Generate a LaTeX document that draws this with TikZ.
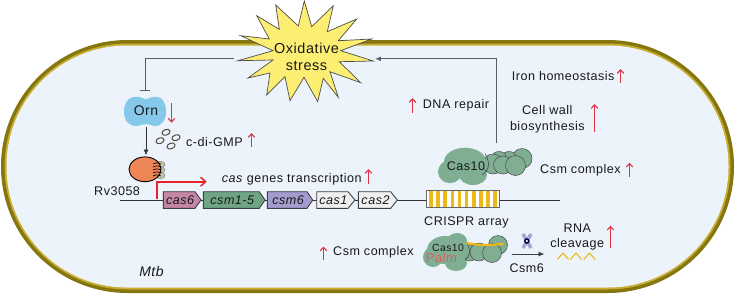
\documentclass[tikz,border=0pt]{standalone}
\usepackage{fontspec}
\setmainfont[LetterSpace=4]{Liberation Sans}
\usetikzlibrary{arrows.meta}
\definecolor{wallDark}{HTML}{86760F}
\definecolor{wallGold}{HTML}{C8AE30}
\definecolor{cytoFill}{HTML}{ECF3FB}
\definecolor{burst}{HTML}{FBEE73}
\definecolor{ornBlue}{HTML}{86C8EA}
\definecolor{rvOrange}{HTML}{EE8658}
\definecolor{upRed}{HTML}{DB3347}
\definecolor{promRed}{HTML}{E6222C}
\definecolor{csmGreen}{HTML}{7FAE93}
\definecolor{stripe}{HTML}{EDB818}
\definecolor{linkGray}{HTML}{5A5F66}
\definecolor{geneRose}{HTML}{C585A5}
\definecolor{geneGreen}{HTML}{6FA585}
\definecolor{geneViolet}{HTML}{A69BCF}
\definecolor{genePale}{HTML}{EFEFEF}
\definecolor{csmXcolor}{HTML}{ABA3D2}
\definecolor{ringBeige}{HTML}{C9C6A8}
\definecolor{palmRed}{HTML}{D9605F}
\tikzset{
  lbl/.style={font=\fontsize{12.6}{15}\selectfont, text=black!90, inner sep=0pt},
  sig/.style={draw=upRed, line width=1.2pt, -{Straight Barb[length=3.5pt,width=6.5pt,line width=1.1pt]}},
  flow/.style={draw=black!80, line width=0.9pt, -{Latex[length=6pt,width=5pt]}},
  pathway/.style={draw=linkGray, line width=1pt},
  genebox/.style={draw=black!75, line width=0.9pt},
  blob/.style={fill=csmGreen, draw=none},
  subunit/.style={fill=csmGreen, draw=black!70, line width=0.5pt},
  cdgring/.style={draw=black!70, fill=white!90!gray, line width=1pt},
  rvring/.style={draw=black!50, fill=ringBeige, line width=0.5pt},
}
% gene arrow: name, left edge, shoulder, tip, fill colour, label
\newcommand{\genearrow}[6]{
  \path[genebox, fill=#5] (#2,191.7) -- (#3,191.7) -- (#4,200) -- (#3,208.3) -- (#2,208.3) -- cycle;
  \node[lbl, font=\fontsize{12.6}{15}\selectfont\itshape] (#1) at ({(#2+#3)/2+1},200) {#6};
}
% short regulation arrow: name, x, y of tail, y of head
\newcommand{\regarrow}[4]{
  \coordinate (#1t) at (#2,#3);
  \coordinate (#1h) at (#2,#4);
  \draw[sig] (#1t) -- (#1h);
}
\begin{document}
\begin{tikzpicture}[x=1bp,y=-1bp]
\useasboundingbox (0,0) rectangle (735,294);
% cell wall and cytoplasm
\fill[wallDark, rounded corners=126.5bp] (1,40) rectangle (734,293);
\fill[wallGold, rounded corners=123bp] (4.5,43.5) rectangle (730.5,289.5);
\fill[cytoFill, rounded corners=120.5bp] (6.5,45.5) rectangle (728.5,287.5);

% oxidative stress burst
\path[draw=black!70, line width=0.7pt, fill=burst]
  (240.7,35.7) -- (269.3,39) -- (256.7,15.7) -- (279.3,29.3) -- (275.7,5) -- (298.3,26)
  -- (304.3,1) -- (311.7,26.7) -- (333.3,5.7) -- (327.3,31.7) -- (356.7,19) -- (338.3,40.7)
  -- (371.7,39) -- (340.7,50.7) -- (373.3,61) -- (339.3,61.7) -- (360.7,82.7) -- (330,71.7)
  -- (338.3,97.3) -- (323.3,78.3) -- (317.7,101.7) -- (304,77.3) -- (290,100.7) -- (285,76.7)
  -- (266.7,95) -- (270,73) -- (248,78) -- (273,60) -- (238,60.7) -- (273,50.7) -- cycle;
\node[lbl, font=\fontsize{14.5}{17}\selectfont, align=center] (oxid) at (306.5,57) {Oxidative\\[-0.5pt]stress};

% Orn
\path[fill=ornBlue] (146,99.5)
  .. controls (137,94.5) and (124,95) .. (124,112)
  .. controls (124,121) and (130,127) .. (137,126)
  .. controls (141,125.5) and (143,124) .. (146,124)
  .. controls (149,124) and (151,125.5) .. (155,126)
  .. controls (161,127) and (166,120) .. (166,112)
  .. controls (166,95) and (155,94.5) .. (146,99.5) -- cycle;
\node[lbl, font=\fontsize{14}{16}\selectfont] (orn) at (146,110.5) {Orn};

% feedback into Orn and the arrow down to Rv3058
\coordinate (inhStart) at (234,58);
\coordinate (inhCorner) at (145,58);
\coordinate (inhEnd) at (145,91);
\draw[pathway, -{Bar[width=10pt,line width=1pt]}] (inhStart) -- (inhCorner) -- (inhEnd);
\coordinate (ornOut) at (146,127);
\coordinate (rvIn) at (146,155.5);
\draw[flow] (ornOut) -- (rvIn);

% c-di-GMP rings
\foreach \cx/\cy in {166/132.3,176/137.7,160/140.7,171/146}
  \draw[cdgring, rotate around={20:(\cx,\cy)}] (\cx,\cy) ellipse [x radius=4.2bp, y radius=2.8bp];
\node[lbl, anchor=west] (cdg) at (186,142) {c-di-GMP};

% Rv3058
\foreach \cy in {164.5,170,175.5}
  \draw[rvring] (160.5,\cy) ellipse [x radius=4.5bp, y radius=3.2bp];
\draw[draw=black, line width=0.9pt, fill=rvOrange] (145,169.3) ellipse [x radius=16bp, y radius=12.4bp];
\foreach \cy in {164,167,170,173,176}
  \draw[black, line width=0.7pt] (153,\cy) .. controls (157,{\cy-1.5}) .. (161,\cy);
\node[lbl, anchor=west] (rv) at (94,190.7) {Rv3058};

% DNA strand
\coordinate (dnaL) at (120,200);
\coordinate (dnaR) at (560,200);
\draw[black!80, line width=0.9pt] (dnaL) -- (dnaR);

% cas locus
\genearrow{cas6}{163.3}{195}{201}{geneRose}{cas6}
\genearrow{csm15}{203.3}{259.3}{265}{geneGreen}{csm1-5}
\genearrow{csm6g}{267.3}{307}{312.7}{geneViolet}{csm6}
\genearrow{cas1}{316.7}{348}{355}{genePale}{cas1}
\genearrow{cas2}{358.3}{390.7}{397.3}{genePale}{cas2}

% promoter arrow
\coordinate (promA) at (157,199);
\coordinate (promB) at (157,181.7);
\coordinate (promC) at (206.7,181.7);
\draw[promRed, line width=1.6pt, -{Straight Barb[length=5pt,width=9pt,line width=1.5pt]}] (promA) -- (promB) -- (promC);
\node[lbl, anchor=west] (trans) at (221.7,179.5) {\textit{cas} genes transcription};

% CRISPR array
\fill[white] (426.7,190.7) rectangle (499.3,207.7);
\foreach \i in {0,...,9}
  \fill[stripe] ({429.2+7.1*\i},191) rectangle ({432.9+7.1*\i},207.4);
\draw[black!60, line width=0.7pt] (426.7,190.7) rectangle (499.3,207.7);
\node[lbl, anchor=west] (crispr) at (424,222.3) {CRISPR array};

% surveillance complex in the upper part of the cell
\fill[blob] (465,161.7) ellipse [x radius=21bp, y radius=14bp];
\fill[blob] (450,171.7) ellipse [x radius=12bp, y radius=11.5bp];
\fill[blob] (473,175) ellipse [x radius=14bp, y radius=10bp];
\draw[subunit] (522,158.5) circle [radius=10bp];
\draw[subunit] (509,157) ellipse [x radius=7bp, y radius=5.5bp];
\draw[subunit] (499,157) ellipse [x radius=7bp, y radius=5.5bp];
\draw[subunit] (493,164) circle [radius=10bp];
\draw[subunit] (503,165) ellipse [x radius=9.5bp, y radius=9bp];
\draw[subunit] (515.5,165.5) circle [radius=10bp];
\fill[blob] (466,163) ellipse [x radius=20bp, y radius=13bp];
\draw[black!80, line width=0.5pt] (485,153.5) .. controls (490,162) and (490,170) .. (482,175);
\node[lbl] (cas10a) at (466,165.7) {Cas10};

% complex bound to target RNA
\draw[subunit] (498,245) circle [radius=9.5bp];
\draw[subunit] (470,253) ellipse [x radius=8bp, y radius=8bp];
\draw[subunit] (479,252) ellipse [x radius=9bp, y radius=9bp];
\draw[subunit] (492,253) circle [radius=9.5bp];
\fill[blob] (445,250) ellipse [x radius=18bp, y radius=14bp];
\fill[blob] (433,257) ellipse [x radius=10bp, y radius=10bp];
\fill[blob] (456,263) ellipse [x radius=11bp, y radius=8bp];
\fill[blob] (457,241) ellipse [x radius=10bp, y radius=8bp];
\fill[blob] (463,250) ellipse [x radius=7bp, y radius=9bp];
\draw[black!80, line width=0.5pt] (467,243) .. controls (471,250) and (470,257) .. (465,260);
\draw[stripe, line width=2.2pt, line cap=round] (467,243) .. controls (480,246) and (490,245) .. (503,244);
\node[lbl, font=\fontsize{10.5}{12}\selectfont] (cas10b) at (448,247.5) {Cas10};
\node[lbl, font=\fontsize{13}{15}\selectfont, text=palmRed] (palm) at (441.5,258) {Palm};

% Csm6 dimer above its activation arrow
\draw[csmXcolor, line width=3.5pt] (523,234) -- (531,248);
\draw[csmXcolor, line width=3.5pt] (531,234) -- (523,248);
\draw[blue!30!black, line width=1.5pt, fill=white] (526.8,241) circle [radius=2bp];
\coordinate (csm6a) at (511.7,254);
\coordinate (csm6b) at (544.5,254);
\draw[draw=black!75, line width=0.9pt, -{Latex[length=6pt,width=5pt]}] (csm6a) -- (csm6b);
\node[lbl] (csm6) at (526.7,267.7) {Csm6};

% cleaved RNA
\foreach \wx in {557.5,570.5,584}
  \draw[stripe, line width=1.1pt, line cap=round, line join=round] (\wx,259.3) -- ({\wx+5.5},253) -- ({\wx+11},259.3);
\node[lbl, align=center] (rna) at (577.3,237) {RNA\\[0.8pt]cleavage};

% stress signal returning from the complex
\coordinate (retA) at (496,142.7);
\coordinate (retB) at (496,58.8);
\coordinate (retC) at (375,58.8);
\draw[pathway, -{Latex[length=6pt,width=5pt]}] (retA) -- (retB) -- (retC);

% pathway labels
\node[lbl, anchor=west] (iron) at (511.7,76) {Iron homeostasis};
\node[lbl, anchor=west] (dna) at (422.7,105.7) {DNA repair};
\node[lbl, align=center] (wall) at (547.3,119.7) {Cell wall\\[1pt]biosynthesis};
\node[lbl, anchor=west] (csmA) at (540,170.7) {Csm complex};
\node[lbl, anchor=west] (csmB) at (333,252.5) {Csm complex};
\node[lbl, font=\fontsize{14}{16}\selectfont\itshape] (mtb) at (151.5,271.7) {Mtb};

% regulation arrows
\regarrow{rOrn}{171.5}{103}{122.7}
\regarrow{rCdg}{251.5}{147}{133}
\regarrow{rTrans}{368.5}{184}{169}
\regarrow{rDna}{412.5}{112.7}{98}
\regarrow{rIron}{620.5}{82.7}{69}
\regarrow{rWall}{594.5}{131.7}{104}
\regarrow{rCsmA}{629.5}{176.7}{162.7}
\regarrow{rCsmB}{323.5}{259.5}{246.5}
\regarrow{rRna}{610.5}{248}{225.7}
\end{tikzpicture}
\end{document}
